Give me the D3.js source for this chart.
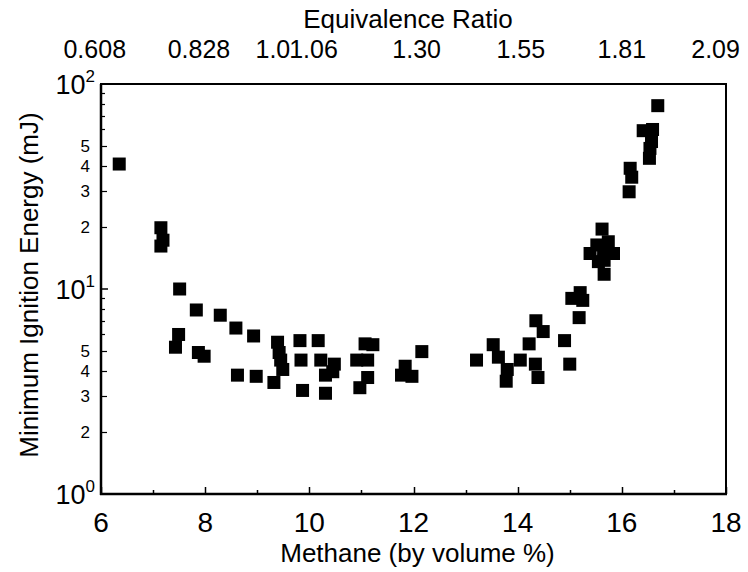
<!DOCTYPE html>
<html><head><meta charset="utf-8">
<script src="https://cdn.jsdelivr.net/npm/d3@7"></script>
<style>body{margin:0;background:#fff}svg{display:block}text{font-family:"Liberation Sans",Arial,Helvetica,sans-serif;fill:#000}</style>
</head><body>
<script>
const methane = [6.35,7.15,7.19,7.15,7.51,7.49,7.43,7.83,7.87,7.98,8.29,8.59,8.62,8.93,8.98,9.32,9.39,9.42,9.45,9.49,9.82,9.84,9.87,10.17,10.22,10.31,10.31,10.45,10.48,10.91,10.97,11.07,11.12,11.12,11.22,11.77,11.84,11.97,12.16,13.21,13.53,13.63,13.78,13.80,14.05,14.22,14.34,14.35,14.39,14.49,14.90,15.00,15.04,15.18,15.20,15.25,15.39,15.52,15.62,15.65,15.74,15.84,15.55,15.66,15.66,16.14,16.16,16.19,16.41,16.59,16.57,16.54,16.53,16.69];
const mie = [40.7,19.9,17.3,16.2,10.0,6.0,5.2,7.9,4.9,4.7,7.45,6.45,3.8,5.9,3.75,3.5,5.5,4.9,4.5,4.05,5.6,4.5,3.2,5.6,4.5,3.8,3.1,3.95,4.3,4.5,3.3,5.4,4.5,3.7,5.35,3.8,4.2,3.75,4.95,4.5,5.35,4.65,3.55,4.05,4.5,5.4,4.3,7.0,3.7,6.2,5.6,4.3,9.0,7.25,9.6,8.8,14.9,16.4,19.6,14.9,17.0,14.9,13.6,13.8,11.8,29.8,38.8,35.1,59.2,60.0,52.4,48.5,43.4,78.4];
const xTicks = [6,8,10,12,14,16,18];
const yDecades = [1,10,100];
const yMinorLabels = [2,3,4,5];
const phiLabels = ["0.608","0.828","1.0","1.06","1.30","1.55","1.81","2.09"];
const phiPositions = [5.88,7.88,9.3,10.08,12.06,14.06,16.0,17.8];

const W=748,H=572, L=101,T=84,R=726,B=494;
const svg=d3.select("body").append("svg").attr("width",W).attr("height",H);
const x=d3.scaleLinear().domain([6,18]).range([L,R]);
const y=d3.scaleLog().domain([1,100]).range([B,T]);

const g=svg.append("g");
for(let d=1; d<100; d*=10){
  for(let k=2;k<=9;k++){
    const v=d*k, yy=Math.round(y(v))+0.5;
    const len = yMinorLabels.includes(k)?6:4;
    g.append("line").attr("x1",L).attr("x2",L+len).attr("y1",yy).attr("y2",yy).attr("stroke","#000").attr("stroke-width",1.2);
  }
}
yDecades.forEach(v=>{const yy=y(v);g.append("line").attr("x1",L).attr("x2",L+7).attr("y1",yy).attr("y2",yy).attr("stroke","#000").attr("stroke-width",1.5);});
d3.range(6,19,1).forEach(v=>{
  const xx=Math.round(x(v))+0.5, len=(v%2===0)?7:4;
  g.append("line").attr("x1",xx).attr("x2",xx).attr("y1",B).attr("y2",B-len).attr("stroke","#000").attr("stroke-width",1.5);
});

svg.append("rect").attr("x",L).attr("y",T).attr("width",R-L).attr("height",B-T).attr("fill","none").attr("stroke","#000").attr("stroke-width",2);
svg.append("line").attr("x1",L).attr("x2",L).attr("y1",T).attr("y2",B+1).attr("stroke","#000").attr("stroke-width",2.5);
svg.append("line").attr("x1",L-1).attr("x2",R+1).attr("y1",B).attr("y2",B).attr("stroke","#000").attr("stroke-width",2.5);

for(let d=1; d<100; d*=10){
  yMinorLabels.forEach(k=>{
    svg.append("text").attr("x",L-11).attr("y",y(d*k)+6).attr("text-anchor","end").attr("font-size",17).text(k);
  });
}
yDecades.forEach(v=>{
  const t=svg.append("text").attr("x",L-6).attr("y",y(v)+10).attr("text-anchor","end").attr("font-size",27);
  t.append("tspan").text("10");
  t.append("tspan").attr("font-size",17).attr("dy",-12).text(Math.round(Math.log10(v)));
});
xTicks.forEach(v=>{
  svg.append("text").attr("x",x(v)).attr("y",532).attr("text-anchor","middle").attr("font-size",28).text(v);
});
svg.append("text").attr("x",(L+R)/2+4).attr("y",562).attr("text-anchor","middle").attr("font-size",26).text("Methane (by volume %)");
phiLabels.forEach((s,i)=>{
  svg.append("text").attr("x",x(phiPositions[i])).attr("y",58).attr("text-anchor","middle").attr("font-size",25).text(s);
});
svg.append("text").attr("x",408).attr("y",28).attr("text-anchor","middle").attr("font-size",26).text("Equivalence Ratio");
svg.append("text").attr("transform",`translate(38,${(T+B)/2-4}) rotate(-90)`).attr("text-anchor","middle").attr("font-size",26).text("Minimum Ignition Energy (mJ)");

const s=13;
svg.append("g").selectAll("rect").data(methane.map((m,i)=>[m,mie[i]])).join("rect")
  .attr("x",d=>x(d[0])-s/2).attr("y",d=>y(d[1])-s/2).attr("width",s).attr("height",s).attr("fill","#000");
</script>
</body></html>
